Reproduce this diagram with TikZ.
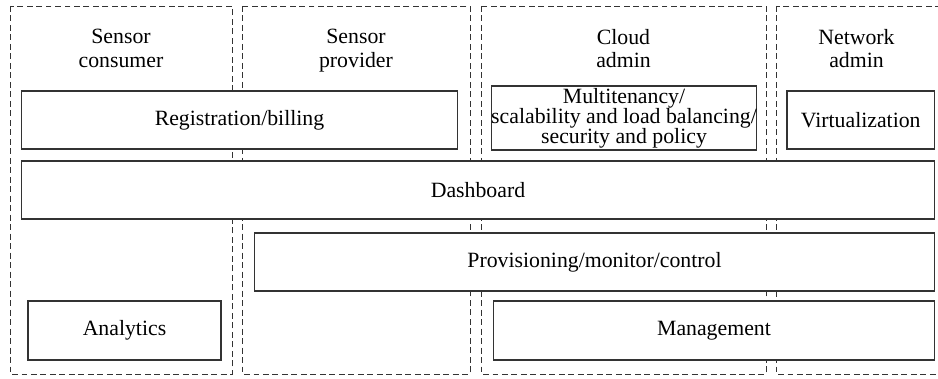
\documentclass[tikz,border=0pt]{standalone}
\usepackage{fontspec}
\setmainfont{Liberation Serif}
\usepackage{tikz}

\tikzset{
  role/.style={draw=black!80, dash pattern=on 3.4pt off 2pt, line width=0.5pt},
  block/.style={draw=black!80, fill=white, line width=0.6pt, inner sep=0pt, align=center,
    minimum height=1.16cm, font=\fontsize{12.4}{11.4}\selectfont},
  rolename/.style={align=center, text depth=3pt, font=\fontsize{12.4}{13.2}\selectfont}
}

\begin{document}
\begin{tikzpicture}[x=0.02cm, y=0.02cm]
  \useasboundingbox (0,0) rectangle (938,379);

  %Role columns
  \foreach \l/\r/\n/\t in {10/232/cons/Sensor\\consumer, 242/470/prov/Sensor\\provider,
                           481/766/cloud/Cloud\\admin, 776/946/net/Network\\admin}
  {
    \draw[role] (\l,373) rectangle (\r,5);
  }
  \foreach \x/\n/\t in {121/cons/Sensor\\consumer, 356/prov/Sensor\\provider,
                        623.5/cloud/Cloud\\admin, 856.5/net/Network\\admin}
    \node[rolename] (\n) at (\x,328) {\t};

  %Blocks
  \node[block, minimum width=8.74cm] (reg) at (239.5,259) {Registration/billing};
  \node[block, minimum width=5.28cm, minimum height=1.28cm] (multi) at (624,261) {Multitenancy/\\scalability and load balancing/\\security and policy};
  \node[block, minimum width=2.95cm] (virt) at (860.75,259) {Virtualization};
  \node[block, minimum width=18.28cm] (dash) at (478,189) {Dashboard};
  \node[block, minimum width=13.62cm] (provc) at (594.5,117) {Provisioning/monitor/control};
  \node[block, minimum width=3.86cm, minimum height=1.18cm] (ana) at (124.5,48.5) {Analytics};
  \node[block, minimum width=8.84cm, minimum height=1.18cm] (mgmt) at (714,48.5) {Management};

\end{tikzpicture}
\end{document}
